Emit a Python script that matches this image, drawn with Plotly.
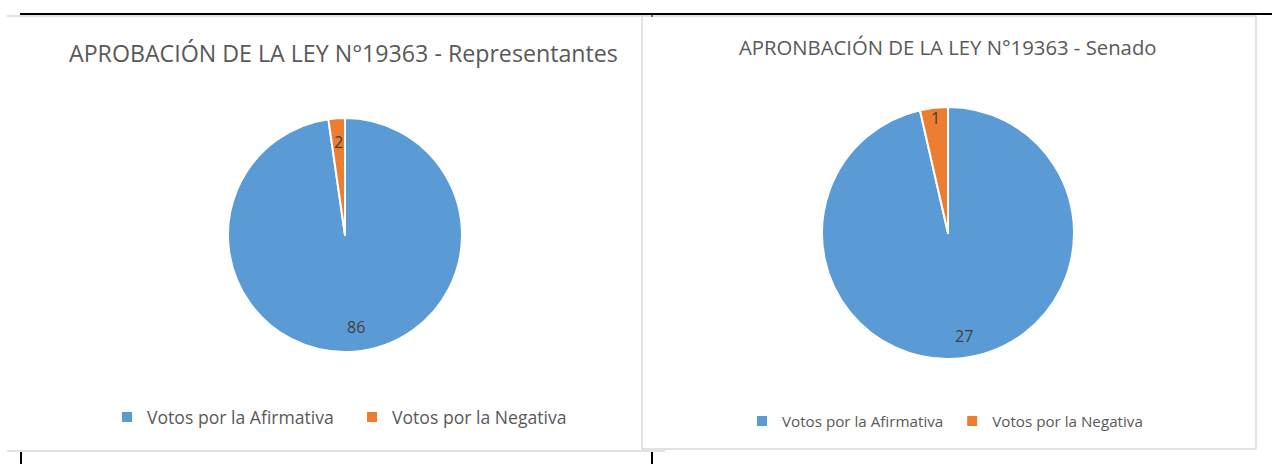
import math
import plotly.graph_objects as go

W, H = 1272, 464

labels = ["Votos por la Afirmativa", "Votos por la Negativa"]
rep_values = [86, 2]
sen_values = [27, 1]
titles = ["APROBACIÓN DE LA LEY N°19363 - Representantes",
          "APRONBACIÓN DE LA LEY N°19363 - Senado"]
colors = ["#5B9BD5", "#ED7D31"]

FONT = "Open Sans"


def px_x(x):
    return x / W


def px_y(y):
    return 1 - y / H


fig = go.Figure()

# pie geometry (pixels): center x, center y, radius
pies = [
    dict(vals=rep_values, cx=345, cy=235, r=117, legend="legend",
         lab_r=[0.79, 0.80], lab_size=16, suffix=""),
    dict(vals=sen_values, cx=948, cy=233, r=126, legend="legend2",
         lab_r=[0.82, 0.92], lab_size=16, suffix=" "),
]

annotations = []
for p in pies:
    fig.add_trace(go.Pie(
        labels=[l + p["suffix"] for l in labels], values=p["vals"],
        sort=False, direction="clockwise", rotation=0,
        marker=dict(colors=colors, line=dict(color="white", width=2)),
        textinfo="none", hoverinfo="label+value",
        domain=dict(x=[px_x(p["cx"] - p["r"]), px_x(p["cx"] + p["r"])],
                    y=[px_y(p["cy"] + p["r"]), px_y(p["cy"] - p["r"])]),
        legend=p["legend"], showlegend=True,
    ))
    total = sum(p["vals"])
    cum = 0
    for v, f in zip(p["vals"], p["lab_r"]):
        mid = (cum + v / 2) / total * 2 * math.pi
        cum += v
        x = p["cx"] + f * p["r"] * math.sin(mid) + (4 if v == max(p["vals"]) else 0)
        y = p["cy"] - f * p["r"] * math.cos(mid)
        annotations.append(dict(
            x=px_x(x), y=px_y(y), xref="paper", yref="paper",
            xanchor="center", yanchor="middle",
            text=str(v), showarrow=False,
            font=dict(family=FONT, size=p["lab_size"], color="#404040")))

annotations.append(dict(x=px_x(343), y=px_y(53), xref="paper", yref="paper",
                        xanchor="center", yanchor="middle",
                        text=titles[0], showarrow=False,
                        font=dict(family=FONT, size=23.2, color="#595959")))
annotations.append(dict(x=px_x(948), y=px_y(47), xref="paper", yref="paper",
                        xanchor="center", yanchor="middle",
                        text=titles[1], showarrow=False,
                        font=dict(family=FONT, size=20.3, color="#595959")))

gray = "#D9D9D9"
shapes = [
    # left chart box (top, bottom)
    dict(type="line", x0=px_x(7), x1=px_x(643), y0=px_y(16), y1=px_y(16),
         line=dict(color=gray, width=1.5)),
    dict(type="line", x0=px_x(7), x1=px_x(665), y0=px_y(451), y1=px_y(451),
         line=dict(color=gray, width=1.5)),
    # right chart box
    dict(type="rect", x0=px_x(642), x1=px_x(1256), y0=px_y(449), y1=px_y(16),
         line=dict(color=gray, width=1.5), fillcolor="rgba(0,0,0,0)"),
    # black table rules
    dict(type="line", x0=px_x(20), x1=px_x(1272), y0=px_y(14), y1=px_y(14),
         line=dict(color="black", width=2)),
    dict(type="line", x0=px_x(21), x1=px_x(21), y0=px_y(452), y1=px_y(464),
         line=dict(color="black", width=2)),
    dict(type="line", x0=px_x(652), x1=px_x(652), y0=px_y(452), y1=px_y(464),
         line=dict(color="black", width=2)),
    dict(type="line", x0=px_x(652), x1=px_x(652), y0=px_y(14), y1=px_y(17),
         line=dict(color="black", width=1)),
]

fig.update_layout(
    width=W, height=H,
    margin=dict(l=0, r=0, t=0, b=0),
    paper_bgcolor="white", plot_bgcolor="white",
    annotations=annotations, shapes=shapes,
    legend=dict(orientation="h", x=px_x(352), xanchor="center",
                y=px_y(417), yanchor="middle",
                font=dict(family=FONT, size=17.6, color="#595959"),
                itemwidth=30, entrywidth=200, entrywidthmode="pixels",
                bgcolor="rgba(0,0,0,0)"),
    legend2=dict(orientation="h", x=px_x(947), xanchor="center",
                 y=px_y(421), yanchor="middle",
                 font=dict(family=FONT, size=15.2, color="#595959"),
                 itemwidth=30, bgcolor="rgba(0,0,0,0)"),
)

fig.write_html("out.html", config={"displayModeBar": False},
               post_script="document.body.style.margin='0';")
